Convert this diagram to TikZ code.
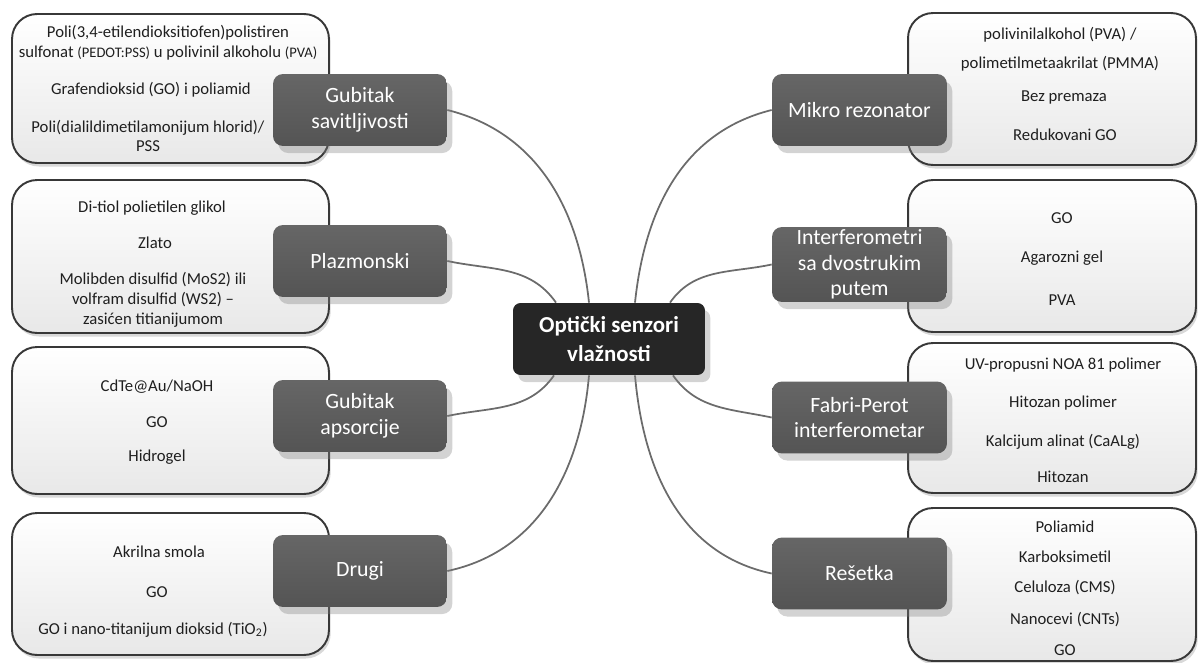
\documentclass[tikz,border=0pt]{standalone}
\usepackage{fontspec}
\setmainfont{Carlito}
\usetikzlibrary{shadows,backgrounds}

\begin{document}
\begin{tikzpicture}[x=0.02cm,y=-0.02cm,
    listbox/.style={draw=black!78,line width=1.1pt,rounded corners=0.5cm,top color=white,bottom color=black!9,
      drop shadow={opacity=0.3,shadow xshift=1pt,shadow yshift=-2pt},inner sep=0pt},
    item/.style={align=center,text=black!88,font=\fontsize{9.5}{11.3}\selectfont,inner sep=1pt},
    topic/.style={rounded corners=0.2cm,top color=black!60,bottom color=black!67,text=white,align=center,
      font=\fontsize{12.4}{14.5}\selectfont,inner sep=1pt,minimum width=3.48cm,minimum height=1.44cm,
      drop shadow={opacity=0.35,shadow xshift=3pt,shadow yshift=-4pt}},
    hub/.style={rounded corners=0.15cm,fill=black!85,text=white,align=center,
      font=\bfseries\fontsize{13}{16}\selectfont,minimum width=3.84cm,minimum height=1.44cm,
      drop shadow={opacity=0.35,shadow xshift=3pt,shadow yshift=-4pt}},
    link/.style={draw=black!58,line width=1pt}]

  \useasboundingbox (0,0) rectangle (1198,663);

  \node[listbox,minimum width=6.34cm,minimum height=2.98cm] (gsbox) at (170.5,88.5) {};
  \node[listbox,minimum width=6.34cm,minimum height=3.06cm] (plbox) at (170.5,256.5) {};
  \node[listbox,minimum width=6.34cm,minimum height=2.94cm] (gabox) at (170.5,420.5) {};
  \node[listbox,minimum width=6.34cm,minimum height=2.84cm] (drbox) at (170.5,584) {};
  \node[listbox,minimum width=5.76cm,minimum height=3.04cm] (mrbox) at (1052,89) {};
  \node[listbox,minimum width=5.76cm,minimum height=3.04cm] (ifbox) at (1052,256) {};
  \node[listbox,minimum width=5.76cm,minimum height=3.00cm] (fpbox) at (1052,418) {};
  \node[listbox,minimum width=5.76cm,minimum height=3.06cm] (rebox) at (1052,584.5) {};

  \node[item] (gs1) at (168,43) {Poli(3,4-etilendioksitiofen)polistiren\\sulfonat {\fontsize{8.3}{10}\selectfont(PEDOT:PSS)} u polivinil alkoholu {\fontsize{8.3}{10}\selectfont(PVA)}};
  \node[item] (gs2) at (151,90) {Grafendioksid (GO) i poliamid};
  \node[item] (gs3) at (148,136) {Poli(dialildimetilamonijum hlorid)/\\PSS};

  \node[item] (pl1) at (152,208) {Di-tiol polietilen glikol};
  \node[item] (pl2) at (155,243) {Zlato};
  \node[item] (pl3) at (153,300) {Molibden disulfid (MoS2) ili\\volfram disulfid (WS2) --\\zasićen titianijumom};

  \node[item] (ga1) at (157,387) {CdTe@Au/NaOH};
  \node[item] (ga2) at (157,422) {GO};
  \node[item] (ga3) at (157,457) {Hidrogel};

  \node[item] (dr1) at (159,552) {Akrilna smola};
  \node[item] (dr2) at (157,592) {GO};
  \node[item] (dr3) at (153,630) {GO i nano-titanijum dioksid (TiO\textsubscript{2})};

  \node[item] (mr1) at (1060,49) {polivinilalkohol (PVA) /\\[5pt]polimetilmetaakrilat (PMMA)};
  \node[item] (mr2) at (1064,97) {Bez premaza};
  \node[item] (mr3) at (1065,135) {Redukovani GO};

  \node[item] (if1) at (1062,218) {GO};
  \node[item] (if2) at (1062,258) {Agarozni gel};
  \node[item] (if3) at (1062,300) {PVA};

  \node[item] (fp1) at (1063,365) {UV-propusni NOA 81 polimer};
  \node[item] (fp2) at (1063,403) {Hitozan polimer};
  \node[item] (fp3) at (1063,442) {Kalcijum alinat (CaALg)};
  \node[item] (fp4) at (1063,477) {Hitozan};

  \node[item] (re1) at (1065,527) {Poliamid};
  \node[item] (re2) at (1065,557) {Karboksimetil};
  \node[item] (re3) at (1065,588) {Celuloza (CMS)};
  \node[item] (re4) at (1065,620) {Nanocevi (CNTs)};
  \node[item] (re5) at (1065,650) {GO};

  \node[topic] (gs) at (360,110) {Gubitak\\savitljivosti};
  \node[topic] (pl) at (360,261) {Plazmonski};
  \node[topic] (ga) at (360,416) {Gubitak\\apsorcije};
  \node[topic] (dr) at (360,571) {Drugi};
  \node[topic,minimum width=3.5cm] (mr) at (859.5,110) {Mikro rezonator};
  \node[topic,minimum width=3.5cm,minimum height=1.5cm] (if) at (859.5,264.5) {Interferometri\\sa dvostrukim\\putem};
  \node[topic,minimum width=3.5cm] (fp) at (859.5,417.5) {Fabri-Perot\\interferometar};
  \node[topic,minimum width=3.5cm] (re) at (859.5,573.5) {Rešetka};

  \node[hub] (ctr) at (609,339) {Optički senzori\\vlažnosti};

  \begin{scope}[on background layer]
    \draw[link] ([xshift=-0.4cm]ctr.north) to[out=96,in=-14] (gs.east);
    \draw[link] ([xshift=-1.06cm]ctr.north) to[out=125,in=-12] (pl.east);
    \draw[link] ([xshift=0.52cm]ctr.north) to[out=84,in=194] (mr.west);
    \draw[link] ([xshift=1.22cm]ctr.north) to[out=55,in=192] (if.west);
    \draw[link] ([xshift=-1.1cm]ctr.south) to[out=235,in=12] (ga.east);
    \draw[link] ([xshift=-0.4cm]ctr.south) to[out=265,in=12] (dr.east);
    \draw[link] ([xshift=1.28cm]ctr.south) to[out=-55,in=168] (fp.west);
    \draw[link] ([xshift=0.52cm]ctr.south) to[out=-85,in=168] (re.west);
  \end{scope}
\end{tikzpicture}
\end{document}
